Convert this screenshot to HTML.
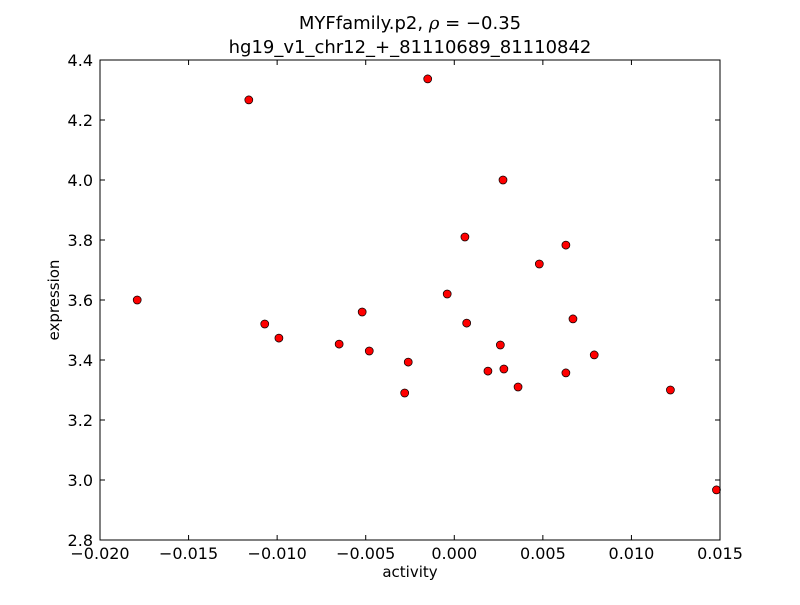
<!DOCTYPE html>
<html><head><meta charset="utf-8"><style>
body{margin:0;background:#fff}
svg text{font-family:"DejaVu Sans","Liberation Sans",sans-serif;fill:#000}
</style></head><body>
<svg id="c" width="800" height="600">
<rect width="800" height="600" fill="#fff"/>
<text x="410" y="29" font-size="18" text-anchor="middle">MYFfamily.p2, <tspan font-style="italic" font-family="DejaVu Serif,serif">ρ</tspan> = −0.35</text>
<text x="410" y="53" font-size="18" text-anchor="middle">hg19_v1_chr12_+_81110689_81110842</text>
<text x="410" y="577" font-size="15" text-anchor="middle">activity</text>
<text x="59" y="300" font-size="15" text-anchor="middle" transform="rotate(-90 59 300)">expression</text>
<g id="ticks"></g>
<g id="pts"></g>
<rect x="100" y="60" width="620" height="480" fill="none" stroke="#000" stroke-width="1"/>
</svg>
<script>
const xTicks=[-0.020,-0.015,-0.010,-0.005,0.000,0.005,0.010,0.015];
const xTickLabels=["−0.020","−0.015","−0.010","−0.005","0.000","0.005","0.010","0.015"];
const yTicks=[2.8,3.0,3.2,3.4,3.6,3.8,4.0,4.2,4.4];
const yTickLabels=["2.8","3.0","3.2","3.4","3.6","3.8","4.0","4.2","4.4"];
const xs=[-0.0179,-0.0116,-0.0015,0.00275,0.0006,0.0048,0.0063,-0.0004,-0.0107,-0.0099,-0.0052,-0.0065,-0.0048,-0.0026,-0.0028,0.0007,0.0067,0.0026,0.0019,0.0028,0.0036,0.0063,0.0079,0.0122,0.0148];
const ys=[3.60,4.267,4.337,4.00,3.81,3.72,3.783,3.62,3.52,3.473,3.56,3.453,3.43,3.393,3.29,3.523,3.537,3.45,3.363,3.37,3.31,3.357,3.417,3.30,2.967];
const X=v=>100+(v+0.02)/0.035*620;
const Y=v=>540-(v-2.8)/1.6*480;
const NS="http://www.w3.org/2000/svg";
const tg=document.getElementById('ticks'),pg=document.getElementById('pts');
function mk(tag,attrs,parent){const e=document.createElementNS(NS,tag);for(const k in attrs)e.setAttribute(k,attrs[k]);parent.appendChild(e);return e;}
xTicks.forEach((t,i)=>{const x=X(t);
 let l=mk('line',{x1:x,x2:x,y1:540,y2:535,stroke:'#000'},tg);
 
 
 l=mk('line',{x1:x,x2:x,y1:60,y2:65,stroke:'#000'},tg);
 
 
 const tx=mk('text',{x:x,y:559,'font-size':16,'text-anchor':'middle'},tg);tx.textContent=xTickLabels[i];
 
 
});
yTicks.forEach((t,i)=>{const y=Y(t);
 let l=mk('line',{x1:100,x2:105,y1:y,y2:y,stroke:'#000'},tg);
 
 
 l=mk('line',{x1:715,x2:720,y1:y,y2:y,stroke:'#000'},tg);
 
 
 const tx=mk('text',{x:93,y:y+6,'font-size':16,'text-anchor':'end'},tg);tx.textContent=yTickLabels[i];
 
 
});
xs.forEach((v,i)=>{
 const c=mk('circle',{cx:X(v),cy:Y(ys[i]),r:4,fill:'#ff0000',stroke:'#000','stroke-width':0.7},pg);
 
 
});
</script>
</body></html>
